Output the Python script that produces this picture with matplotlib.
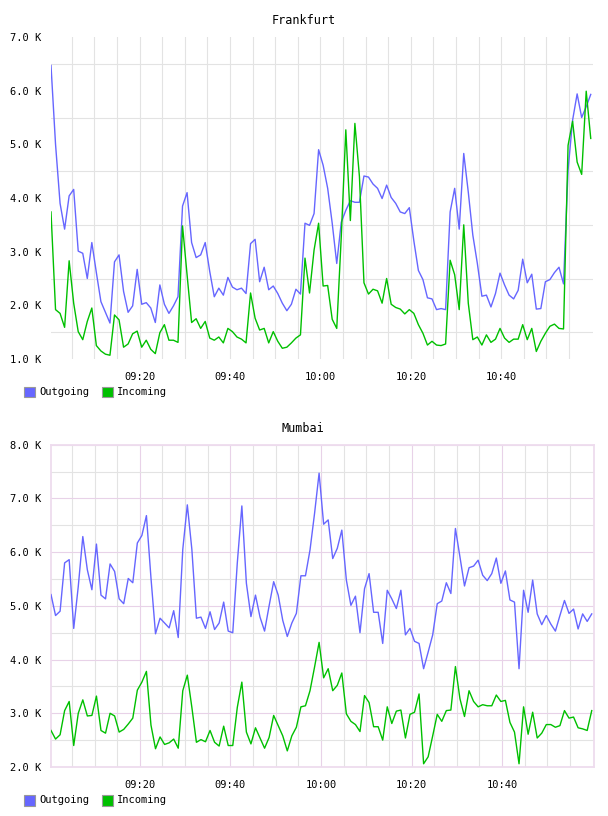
#!/usr/bin/env python3
"""
plot.py - two traffic panels (Frankfurt, Mumbai), outgoing vs incoming.
Writes out.png (608x816).
"""

import numpy as np
import matplotlib
matplotlib.use("Agg")
import matplotlib.pyplot as plt
from matplotlib.patches import Rectangle

# ------------------------------------------------------------------
# Data (values in thousands, one sample per minute from ~09:00)
# ------------------------------------------------------------------
series_names = ["Outgoing", "Incoming"]

frankfurt_out = [
    6.47, 5.00, 3.90, 3.42, 4.04, 4.16, 3.01, 2.97, 2.50, 3.17,
    2.61, 2.07, 1.87, 1.67, 2.81, 2.94, 2.26, 1.87, 1.99, 2.67,
    2.02, 2.05, 1.95, 1.68, 2.38, 2.02, 1.85, 1.99, 2.16, 3.85,
    4.10, 3.17, 2.89, 2.94, 3.17, 2.63, 2.16, 2.32, 2.19, 2.52,
    2.34, 2.29, 2.32, 2.22, 3.15, 3.23, 2.44, 2.71, 2.29, 2.36,
    2.22, 2.04, 1.90, 2.02, 2.30, 2.21, 3.53, 3.49, 3.71, 4.90,
    4.61, 4.18, 3.53, 2.78, 3.55, 3.77, 3.95, 3.92, 3.92, 4.41,
    4.39, 4.26, 4.18, 3.99, 4.24, 4.01, 3.90, 3.74, 3.71, 3.82,
    3.20, 2.65, 2.48, 2.14, 2.12, 1.92, 1.94, 1.92, 3.74, 4.18,
    3.42, 4.83, 4.11, 3.31, 2.78, 2.17, 2.19, 1.97, 2.22, 2.60,
    2.38, 2.19, 2.12, 2.28, 2.86, 2.42, 2.58, 1.93, 1.94, 2.44,
    2.48, 2.61, 2.71, 2.40, 4.52, 5.45, 5.94, 5.50, 5.70, 5.93,
]
frankfurt_in = [
    3.74, 1.92, 1.85, 1.59, 2.83, 2.04, 1.51, 1.36, 1.70, 1.95,
    1.25, 1.15, 1.09, 1.07, 1.82, 1.73, 1.22, 1.28, 1.47, 1.52,
    1.22, 1.35, 1.18, 1.10, 1.49, 1.64, 1.35, 1.35, 1.31, 3.48,
    2.57, 1.68, 1.75, 1.57, 1.70, 1.39, 1.35, 1.41, 1.30, 1.57,
    1.51, 1.41, 1.37, 1.30, 2.23, 1.76, 1.54, 1.57, 1.30, 1.51,
    1.33, 1.20, 1.22, 1.30, 1.39, 1.45, 2.88, 2.23, 3.03, 3.53,
    2.36, 2.37, 1.74, 1.57, 3.28, 5.27, 3.58, 5.39, 4.40, 2.42,
    2.21, 2.30, 2.27, 2.04, 2.50, 2.02, 1.96, 1.93, 1.84, 1.92,
    1.85, 1.64, 1.48, 1.26, 1.33, 1.26, 1.25, 1.28, 2.84, 2.57,
    1.92, 3.50, 2.04, 1.36, 1.41, 1.26, 1.45, 1.31, 1.37, 1.57,
    1.39, 1.31, 1.37, 1.37, 1.64, 1.36, 1.57, 1.14, 1.33, 1.48,
    1.61, 1.65, 1.57, 1.56, 4.98, 5.43, 4.67, 4.44, 5.99, 5.11,
]
mumbai_out = [
    5.21, 4.82, 4.90, 5.80, 5.86, 4.58, 5.36, 6.29, 5.67, 5.30,
    6.15, 5.20, 5.13, 5.78, 5.64, 5.13, 5.04, 5.51, 5.43, 6.17,
    6.31, 6.68, 5.52, 4.48, 4.77, 4.68, 4.59, 4.91, 4.41, 6.05,
    6.88, 6.05, 4.77, 4.79, 4.58, 4.89, 4.56, 4.68, 5.07, 4.53,
    4.50, 5.80, 6.86, 5.42, 4.80, 5.20, 4.79, 4.53, 5.00, 5.45,
    5.20, 4.73, 4.43, 4.68, 4.86, 5.56, 5.56, 6.04, 6.72, 7.47,
    6.52, 6.60, 5.88, 6.07, 6.41, 5.48, 5.01, 5.18, 4.50, 5.32,
    5.60, 4.88, 4.88, 4.30, 5.29, 5.13, 4.95, 5.29, 4.46, 4.58,
    4.34, 4.30, 3.83, 4.14, 4.46, 5.04, 5.09, 5.43, 5.23, 6.44,
    5.91, 5.37, 5.71, 5.74, 5.85, 5.57, 5.47, 5.60, 5.89, 5.42,
    5.65, 5.11, 5.07, 3.83, 5.29, 4.88, 5.48, 4.85, 4.65, 4.82,
    4.66, 4.53, 4.82, 5.10, 4.86, 4.94, 4.57, 4.85, 4.71, 4.85,
]
mumbai_in = [
    2.68, 2.52, 2.60, 3.05, 3.22, 2.40, 3.00, 3.25, 2.95, 2.96,
    3.32, 2.68, 2.63, 3.00, 2.95, 2.65, 2.70, 2.80, 2.91, 3.43,
    3.58, 3.78, 2.78, 2.34, 2.56, 2.42, 2.45, 2.52, 2.35, 3.42,
    3.71, 3.11, 2.46, 2.51, 2.47, 2.68, 2.46, 2.39, 2.76, 2.40,
    2.40, 3.11, 3.58, 2.65, 2.43, 2.73, 2.54, 2.35, 2.55, 2.96,
    2.77, 2.58, 2.30, 2.58, 2.74, 3.12, 3.14, 3.42, 3.86, 4.32,
    3.66, 3.83, 3.42, 3.52, 3.75, 2.99, 2.85, 2.79, 2.66, 3.33,
    3.20, 2.75, 2.75, 2.50, 3.12, 2.81, 3.04, 3.06, 2.54, 2.98,
    3.02, 3.36, 2.06, 2.19, 2.58, 2.98, 2.85, 3.05, 3.06, 3.87,
    3.27, 2.94, 3.42, 3.22, 3.12, 3.16, 3.14, 3.14, 3.34, 3.22,
    3.24, 2.83, 2.65, 2.06, 3.12, 2.61, 3.02, 2.54, 2.63, 2.79,
    2.79, 2.74, 2.77, 3.05, 2.91, 2.93, 2.73, 2.71, 2.68, 3.05,
]

# sample times, minutes after 09:00
minutes = np.linspace(0.38, 119.8, len(frankfurt_out))
label_minutes = [20, 40, 60, 80, 100]
frankfurt_yticks = [1, 2, 3, 4, 5, 6, 7]
mumbai_yticks = [2, 3, 4, 5, 6, 7, 8]

# ------------------------------------------------------------------
# Style
# ------------------------------------------------------------------
BLUE = "#6666ff"
GREEN = "#00c000"
GRID = "#e3e3e3"
PURPLE = "#e8d2e8"
FRAME = "#eedcee"
MONO = "DejaVu Sans Mono"

W, H = 608, 816


def fx(px):
    return px / W


def fy(py):
    return 1 - py / H


def hhmm(m):
    return f"{9 + m // 60:02d}:{m % 60:02d}"


def draw_panel(ax, out, inc, yticks, framed):
    ax.plot(minutes, out, color=BLUE, lw=1.0, zorder=3)
    ax.plot(minutes, inc, color=GREEN, lw=1.0, zorder=3)
    ax.set_xlim(0.38, 120.3)
    ax.set_ylim(yticks[0], yticks[-1])

    ax.set_xticks(label_minutes)
    ax.set_xticklabels([hhmm(m) for m in label_minutes])
    ax.set_xticks(np.arange(5, 120, 5), minor=True)
    ax.set_yticks(yticks)
    ax.set_yticklabels([f"{v:.1f} K" for v in yticks])
    ax.set_yticks(np.arange(yticks[0] + 0.5, yticks[-1], 1.0), minor=True)

    ax.tick_params(which="both", length=0)
    ax.tick_params(axis="y", pad=7, labelsize=7.5)
    ax.tick_params(axis="x", pad=9, labelsize=7.5)
    for lab in ax.get_xticklabels() + ax.get_yticklabels():
        lab.set_family(MONO)

    ax.set_axisbelow(True)
    if framed:
        ax.grid(True, which="major", color=PURPLE, lw=0.8)
        ax.grid(True, which="minor", color=GRID, lw=0.8)
        for sp in ax.spines.values():
            sp.set_color(FRAME)
            sp.set_linewidth(1.3)
    else:
        ax.grid(True, which="minor", color=GRID, lw=0.8)
        ax.grid(True, which="major", axis="x", color=GRID, lw=0.8)
        for sp in ax.spines.values():
            sp.set_visible(False)


def draw_legend(fig, y_center):
    colors = [BLUE, GREEN]
    box_x = [24, 102]
    for name, col, bx in zip(series_names, colors, box_x):
        fig.add_artist(Rectangle((fx(bx), fy(y_center + 5.5)), fx(10.5), 11 / H,
                                 transform=fig.transFigure, facecolor=col,
                                 edgecolor="#999999", lw=0.8))
        fig.text(fx(bx + 15), fy(y_center), name, family=MONO, fontsize=7.5,
                 ha="left", va="center")


fig = plt.figure(figsize=(W / 100, H / 100), dpi=100)

ax1 = fig.add_axes([fx(51), fy(359), fx(542), 322 / H])
draw_panel(ax1, frankfurt_out, frankfurt_in, frankfurt_yticks, framed=False)
fig.text(fx(304), fy(20), "Frankfurt", family=MONO, fontsize=8.5,
         ha="center", va="center")
draw_legend(fig, 392)

ax2 = fig.add_axes([fx(51), fy(767), fx(543), 322.3 / H])
draw_panel(ax2, mumbai_out, mumbai_in, mumbai_yticks, framed=True)
fig.text(fx(303), fy(428), "Mumbai", family=MONO, fontsize=8.5,
         ha="center", va="center")
draw_legend(fig, 800)

fig.savefig("out.png", dpi=100)
plt.close(fig)
